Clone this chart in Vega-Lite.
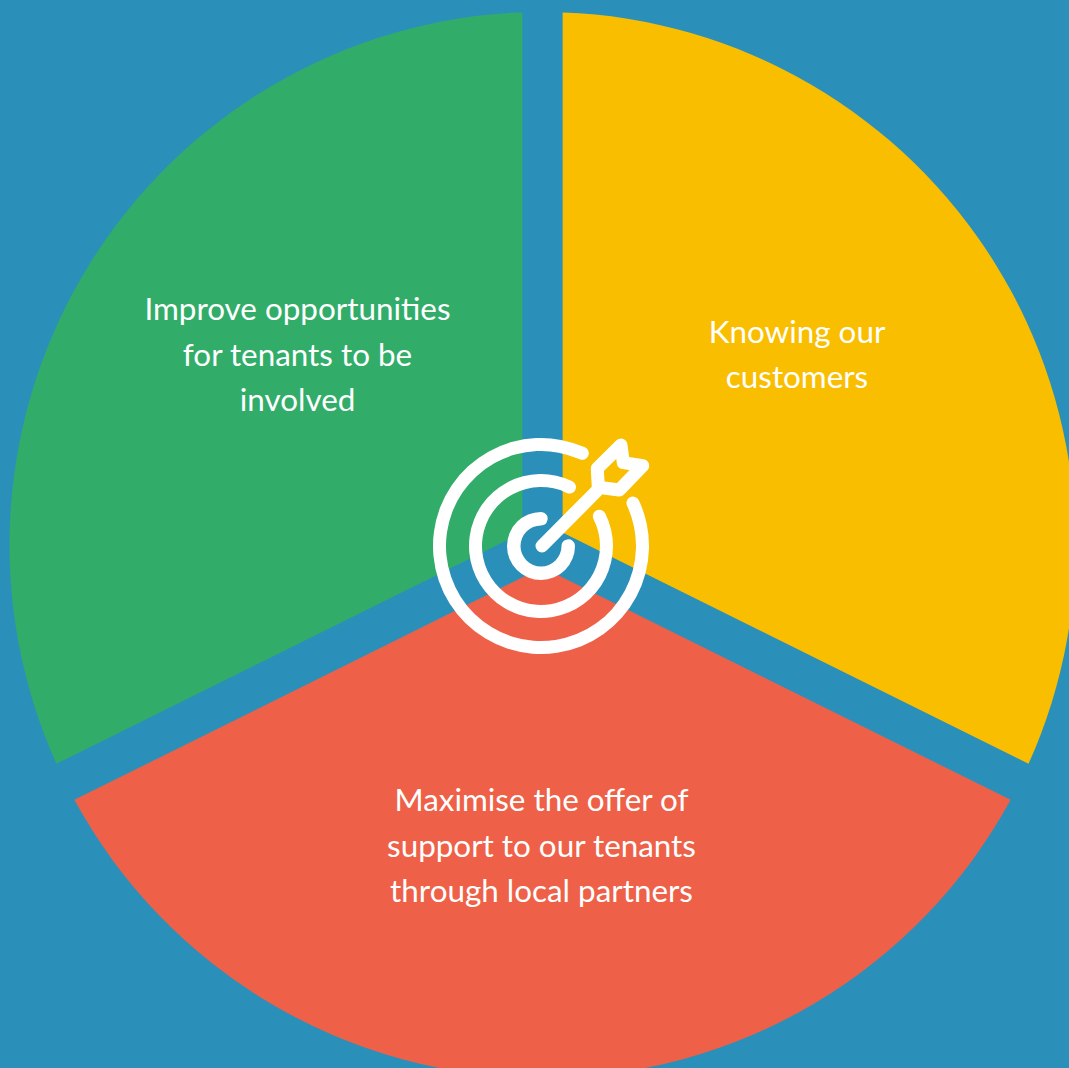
{
  "$schema": "https://vega.github.io/schema/vega-lite/v6.json",
  "width": 1069,
  "height": 1068,
  "padding": 0,
  "autosize": {"type": "none"},
  "background": "#2b90b9",
  "config": {"view": {"stroke": null}},
  "datasets": {
    "slices": [
      {"goal": "Knowing our customers", "cx": 1.5, "cy": 1, "start": 0, "end": 116.4, "inner": 24.2, "outer": 533, "color": "#f9be00"},
      {"goal": "Maximise the offer of support", "cx": 1.5, "cy": 1, "start": 116.4, "end": 243.6, "inner": 22.8, "outer": 533, "color": "#ee6148"},
      {"goal": "Improve opportunities", "cx": 1.5, "cy": 1, "start": 243.6, "end": 360, "inner": 24.2, "outer": 533, "color": "#31ad69"}
    ],
    "rings": [
      {"ring": "outer", "cx": 0, "cy": 0, "start": 61.3, "end": 387.7, "inner": 95, "outer": 108},
      {"ring": "middle", "cx": 0, "cy": 0, "start": 57.3, "end": 391.5, "inner": 59, "outer": 72},
      {"ring": "bull", "cx": 0, "cy": 0, "start": 76, "end": 374, "inner": 20.5, "outer": 34}
    ],
    "arrow": [
      {"part": "shaft", "seq": 0, "px": 1, "py": 0},
      {"part": "shaft", "seq": 1, "px": 55.7, "py": 55},
      {"part": "head", "seq": 0, "px": 56.3, "py": 77.7},
      {"part": "head", "seq": 1, "px": 80, "py": 101},
      {"part": "head", "seq": 2, "px": 82.3, "py": 83.3},
      {"part": "head", "seq": 3, "px": 101.7, "py": 80.3},
      {"part": "head", "seq": 4, "px": 78.3, "py": 56},
      {"part": "head", "seq": 5, "px": 57.3, "py": 58.7},
      {"part": "head", "seq": 6, "px": 56.3, "py": 77.7}
    ],
    "labels": [
      {"lines": ["Knowing our", "customers"], "px": 256, "py": 212.5},
      {"lines": ["Improve opportunities", "for tenants to be", "involved"], "px": -243.5, "py": 235},
      {"lines": ["Maximise the offer of", "support to our tenants", "through local partners"], "px": 0.5, "py": -256}
    ]
  },
  "layer": [
    {
      "data": {"name": "slices"},
      "mark": {"type": "arc", "padAngle": 0.0755},
      "encoding": {
        "x": {"field": "cx", "type": "quantitative", "scale": {"domain": [-541, 528], "nice": false, "zero": false}, "axis": null},
        "y": {"field": "cy", "type": "quantitative", "scale": {"domain": [-522, 546], "nice": false, "zero": false}, "axis": null},
        "theta": {"field": "start", "type": "quantitative", "stack": null, "scale": {"type": "linear", "domain": [0, 360], "range": [0, 6.283185307]}},
        "theta2": {"field": "end"},
        "radius": {"field": "outer", "type": "quantitative", "stack": null, "scale": {"type": "linear", "domain": [0, 533], "range": [0, 533], "zero": true}},
        "radius2": {"field": "inner"},
        "color": {"field": "color", "type": "nominal", "scale": null, "legend": null}
      }
    },
    {
      "data": {"name": "rings"},
      "mark": {"type": "arc", "cornerRadius": 6.5, "color": "#ffffff"},
      "encoding": {
        "x": {"field": "cx", "type": "quantitative", "axis": null},
        "y": {"field": "cy", "type": "quantitative", "axis": null},
        "theta": {"field": "start", "type": "quantitative", "stack": null},
        "theta2": {"field": "end"},
        "radius": {"field": "outer", "type": "quantitative", "stack": null},
        "radius2": {"field": "inner"}
      }
    },
    {
      "data": {"name": "arrow"},
      "mark": {"type": "line", "color": "#ffffff", "strokeWidth": 13, "strokeCap": "round", "strokeJoin": "round"},
      "encoding": {
        "x": {"field": "px", "type": "quantitative", "axis": null},
        "y": {"field": "py", "type": "quantitative", "axis": null},
        "detail": {"field": "part"},
        "order": {"field": "seq", "type": "quantitative"}
      }
    },
    {
      "data": {"name": "labels"},
      "mark": {"type": "text", "color": "#ffffff", "font": "Lato", "fontSize": 31.4, "lineHeight": 45.5, "align": "center", "baseline": "middle"},
      "encoding": {
        "x": {"field": "px", "type": "quantitative", "axis": null},
        "y": {"field": "py", "type": "quantitative", "axis": null},
        "text": {"field": "lines"}
      }
    }
  ],
  "resolve": {"scale": {"x": "shared", "y": "shared"}}
}
